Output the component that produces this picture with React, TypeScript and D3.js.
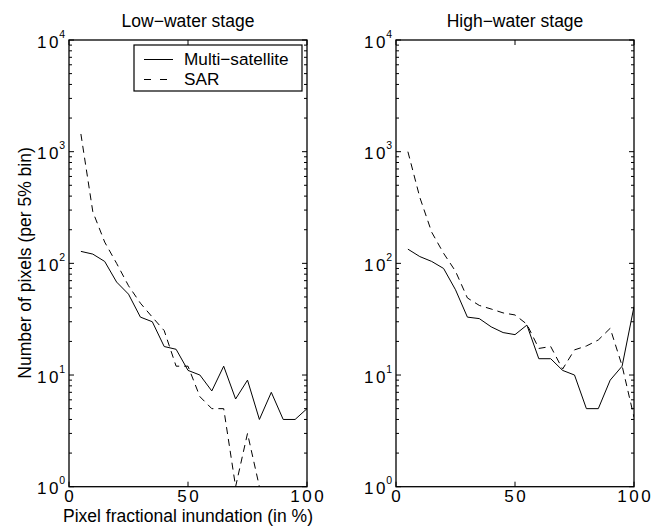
import React from "react";
import * as d3 from "d3";

const bins = [5, 10, 15, 20, 25, 30, 35, 40, 45, 50, 55, 60, 65, 70, 75, 80, 85, 90, 95, 100];
const lowMulti = [128, 121, 104, 68, 53, 33, 30, 18, 17, 11, 10, 7.2, 12, 6.1, 9, 4, 7, 4, 4, 5];
const lowSAR: (number | null)[] = [1440, 290, 155, 100, 63, 44, 33, 25, 12, 12, 6.4, 5, 5, 1, 3, 1, null, null, null, null];
const highMulti = [134, 115, 104, 90, 58, 33, 32, 27, 24, 23, 28, 14, 14, 11, 10, 5, 5, 9, 12, 41];
const highSAR = [1000, 390, 190, 123, 85, 49, 42, 39, 36, 34.5, 28.5, 17.3, 18, 11.3, 16.8, 18.2, 20.6, 26.2, 12.1, 4.2];
const yExps = [0, 1, 2, 3, 4];
const xTicks = [0, 50, 100];
const titles = ["Low\u2212water stage", "High\u2212water stage"];
const legendLabels = ["Multi\u2212satellite", "SAR"];
const xLabel = "Pixel fractional inundation (in %)";
const yLabel = "Number of pixels (per 5% bin)";

const FONT = "'Liberation Sans', Arial, Helvetica, sans-serif";
const TOP = 40;
const BOTTOM = 486.7;
const PW = 238;

function Digits({ s }: { s: string }) {
  return (
    <>
      {s.split("").map((c, i) => (
        <tspan key={i} dx={i === 0 ? 0 : 2.5}>
          {c}
        </tspan>
      ))}
    </>
  );
}

function Panel({ x0, title, multi, sar, legend, xlabel }: any) {
  const x = d3.scaleLinear().domain([0, 100]).range([x0, x0 + PW]);
  const y = d3.scaleLog().domain([1, 10000]).range([BOTTOM, TOP]);
  const line = d3
    .line<any>()
    .defined((d) => d[1] != null && d[1] > 0)
    .x((d) => x(d[0]))
    .y((d) => y(d[1]));
  const mData = bins.map((b, i) => [b, multi[i]]);
  const sData = bins.map((b, i) => [b, sar[i]]);
  const minor: number[] = [];
  for (let e = 0; e < 4; e++) for (let k = 2; k <= 9; k++) minor.push(k * Math.pow(10, e));
  const x1 = x0 + PW;
  const clipId = "clip" + x0;
  return (
    <g>
      <clipPath id={clipId}>
        <rect x={x0} y={TOP - 1} width={PW} height={BOTTOM - TOP + 2} />
      </clipPath>
      <text x={x0 + PW / 2} y={27} textAnchor="middle" fontSize={17.5} fontFamily={FONT}>
        {title}
      </text>
      <g clipPath={`url(#${clipId})`}>
        <path d={line(mData) || ""} fill="none" stroke="#000" strokeWidth={1} />
        <path d={line(sData) || ""} fill="none" stroke="#000" strokeWidth={1} strokeDasharray="7,5" />
      </g>
      <rect x={x0} y={TOP} width={PW} height={BOTTOM - TOP} fill="none" stroke="#000" strokeWidth={1.3} />
      {yExps.map((e) => {
        const yy = y(Math.pow(10, e));
        return (
          <g key={"y" + e}>
            <line x1={x0} x2={x0 + 5} y1={yy} y2={yy} stroke="#000" />
            <line x1={x1} x2={x1 - 5} y1={yy} y2={yy} stroke="#000" />
            <text x={x0 - 10.5} y={yy + 7.5} textAnchor="end" fontSize={17} fontFamily={FONT}>
              <Digits s="10" />
            </text>
            <text x={x0 - 4} y={yy - 2.5} textAnchor="end" fontSize={10.5} fontFamily={FONT}>
              {e}
            </text>
          </g>
        );
      })}
      {minor.map((v) => {
        const yy = y(v);
        return (
          <g key={"m" + v}>
            <line x1={x0} x2={x0 + 3} y1={yy} y2={yy} stroke="#000" />
            <line x1={x1} x2={x1 - 3} y1={yy} y2={yy} stroke="#000" />
          </g>
        );
      })}
      {xTicks.map((t) => {
        const xx = x(t);
        return (
          <g key={"x" + t}>
            <line x1={xx} x2={xx} y1={BOTTOM} y2={BOTTOM - 5} stroke="#000" />
            <line x1={xx} x2={xx} y1={TOP} y2={TOP + 5} stroke="#000" />
            <text x={xx} y={BOTTOM + 15.3} textAnchor="middle" fontSize={17} fontFamily={FONT}>
              <Digits s={String(t)} />
            </text>
          </g>
        );
      })}
      {xlabel && (
        <text x={x0 + PW / 2} y={522} textAnchor="middle" fontSize={17.5} fontFamily={FONT}>
          {xlabel}
        </text>
      )}
      {legend && (
        <g>
          <rect x={134} y={45} width={168} height={46} fill="#fff" stroke="#000" strokeWidth={1.2} />
          <line x1={144} x2={173} y1={59.5} y2={59.5} stroke="#000" />
          <line x1={144} x2={173} y1={79.5} y2={79.5} stroke="#000" strokeDasharray="7,9" />
          <text x={184} y={65} fontSize={17.2} fontFamily={FONT}>{legendLabels[0]}</text>
          <text x={184} y={85} fontSize={17.2} fontFamily={FONT}>{legendLabels[1]}</text>
        </g>
      )}
    </g>
  );
}

export default function App() {
  return (
    <svg
      width={660}
      height={529}
      style={{ position: "absolute", left: 0, top: 0, background: "#fff" }}
    >
      <rect width={660} height={529} fill="#fff" />
      <text
        transform={`translate(31,263) rotate(-90)`}
        textAnchor="middle"
        fontSize={17.5}
        fontFamily={FONT}
      >
        {yLabel}
      </text>
      <Panel x0={69} title={titles[0]} multi={lowMulti} sar={lowSAR} legend xlabel={xLabel} />
      <Panel x0={396} title={titles[1]} multi={highMulti} sar={highSAR} />
    </svg>
  );
}
